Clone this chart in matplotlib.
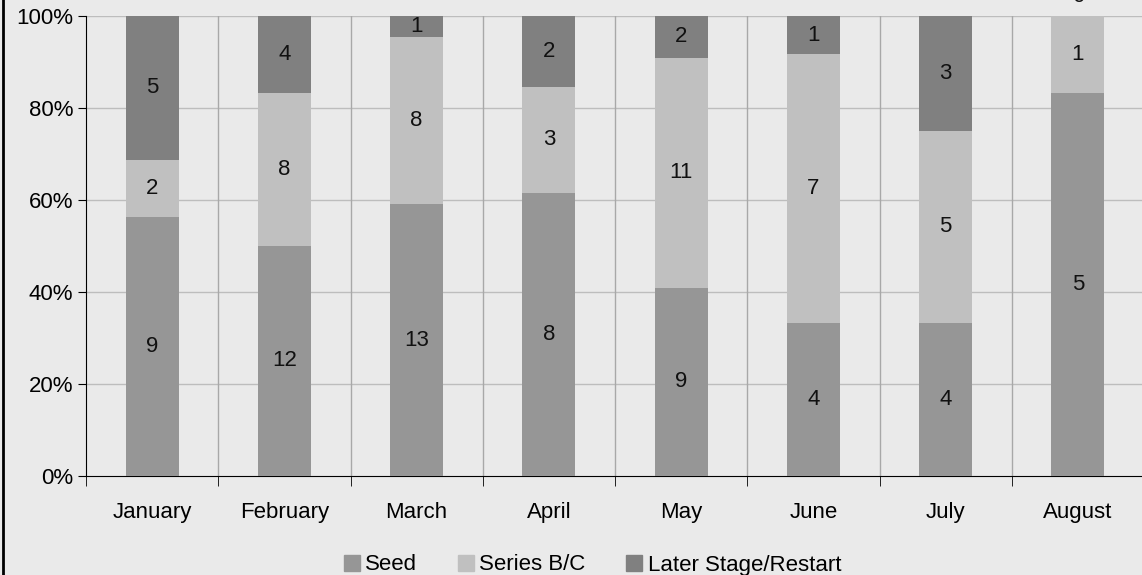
import matplotlib
matplotlib.use("Agg")
import matplotlib.pyplot as plt
from matplotlib.lines import Line2D
import numpy as np

plt.rcParams['font.family'] = ['Liberation Sans', 'DejaVu Sans']

months = ["January", "February", "March", "April", "May", "June", "July", "August"]
seed = [9, 12, 13, 8, 9, 4, 4, 5]
series_bc = [2, 8, 8, 3, 11, 7, 5, 1]
later = [5, 4, 1, 2, 2, 1, 3, 0]
series_names = ["Seed", "Series B/C", "Later Stage/Restart"]
colors = ["#969696", "#c0c0c0", "#808080"]
bg = "#eaeaea"
FS = 16

W, H = 1142, 575
fig = plt.figure(figsize=(W / 100, H / 100), dpi=100, facecolor=bg)
ax = fig.add_axes([86 / W, 1 - 476 / H, (1144 - 86) / W, (476 - 16) / H])
ax.set_facecolor(bg)

data = np.array([seed, series_bc, later], dtype=float)
tot = data.sum(axis=0)
pct = data / tot * 100
x = np.arange(len(months))
bottom = np.zeros(len(months))
for i in range(3):
    ax.bar(x, pct[i], bottom=bottom, width=0.40, color=colors[i], zorder=3,
           label=series_names[i])
    for j in range(len(months)):
        yc = bottom[j] + pct[i][j] / 2
        if data[i][j] == 0:
            yc = bottom[j] + 4.2
        ax.text(x[j], yc, f"{int(data[i][j])}", ha="center", va="center",
                fontsize=FS, color="#111111", zorder=4, clip_on=False)
    bottom += pct[i]

ax.set_xlim(-0.5, len(months) - 0.5)
ax.set_ylim(0, 100)
ax.set_yticks([0, 20, 40, 60, 80, 100])
ax.set_yticklabels([f"{v}%" for v in [0, 20, 40, 60, 80, 100]], fontsize=FS)
ax.set_xticks(x)
ax.set_xticklabels(months, fontsize=FS)
ax.tick_params(axis="x", length=0, pad=19)
ax.set_xticks(np.arange(len(months) + 1) - 0.5, minor=True)
ax.tick_params(axis="x", which="minor", length=7, direction="out", color="black")
ax.tick_params(axis="y", length=6, direction="out", color="black", pad=3)

for v in [20, 40, 60, 80, 100]:
    ax.axhline(v, color="#bdbdbd", lw=1, zorder=1)
for b in np.arange(1, len(months)) - 0.5:
    ax.axvline(b, color="#a8a8a8", lw=1, zorder=1)

for s in ["top", "right"]:
    ax.spines[s].set_visible(False)
ax.spines["left"].set_color("black")
ax.spines["bottom"].set_color("black")

handles = [Line2D([], [], marker="s", ls="none", markersize=11,
                  markerfacecolor=c, markeredgecolor=c) for c in colors]
fig.legend(handles, series_names, loc="center", bbox_to_anchor=(592 / W, 1 - 565 / H),
           ncol=3, frameon=False, fontsize=FS, handletextpad=0.2, columnspacing=1.8,
           handlelength=0.8)

fig.add_artist(Line2D([3 / W, 3 / W], [0, 1], color="black", lw=2, transform=fig.transFigure))

fig.savefig("out.png", dpi=100, facecolor=bg)
